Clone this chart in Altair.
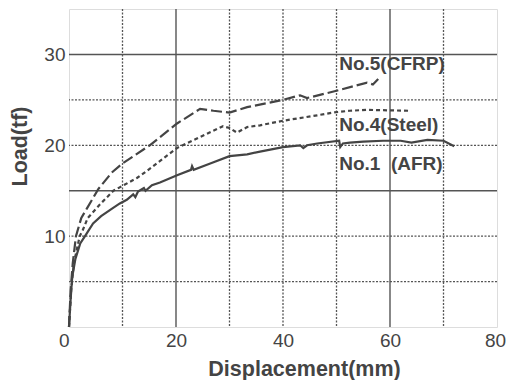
import altair as alt
import pandas as pd

# ---- data ----
afr_x = [0, 0.3, 0.6, 1.2, 2.1, 3.2, 4.5, 6, 7.7, 9.5, 10.8, 12.0, 12.4, 12.9, 14.0, 14.3,
         15.5, 17, 20.2, 22.8, 23.0, 23.3, 26.4, 30, 33.3, 35.7, 40, 43.2, 43.8, 44.5, 46.4,
         50.5, 50.7, 51.2, 52.5, 55, 58.7, 62, 64, 67, 70, 72]
afr_y = [0, 3, 5.5, 7.5, 9.2, 10.2, 11.4, 12.2, 12.9, 13.6, 14.0, 14.6, 14.3, 14.9, 15.3, 15.0,
         15.6, 15.9, 16.7, 17.3, 17.7, 17.3, 18.0, 18.8, 19.0, 19.3, 19.8, 20.0, 19.7, 20.0, 20.2,
         20.5, 19.8, 20.2, 20.3, 20.4, 20.5, 20.5, 20.3, 20.6, 20.5, 19.9]

steel_x = [0, 0.4, 0.9, 2, 2.6, 3.5, 5.8, 8.3, 9.9, 12.7, 14.6, 20.2, 24.5, 28.8, 30, 31.4,
           33.3, 35.7, 40, 46.4, 49.3, 52.5, 55.7, 63.4]
steel_y = [0, 4, 7, 10, 10.7, 12, 13.5, 15, 15.5, 16.4, 17.2, 19.7, 20.9, 22.1, 21.9, 21.4,
           22.0, 22.2, 22.7, 23.3, 23.6, 23.8, 23.9, 23.8]

cfrp_x = [0, 0.3, 0.7, 1.3, 2.3, 3.3, 5.5, 8, 10, 15.1, 20.2, 24.5, 27, 30, 33.3, 40, 43.2,
          44.5, 50, 55.7, 56.8, 57.8]
cfrp_y = [0, 4, 7, 10, 12, 13, 15.2, 17, 18, 20, 22.4, 24, 23.8, 23.6, 24.2, 25, 25.5,
          25.2, 26, 26.9, 26.7, 27.3]

label_text = ["No.5(CFRP)", "No.4(Steel)", "No.1\u00a0\u00a0(AFR)"]
label_x = [50.5, 50.5, 50.5]
label_y = [29.0, 22.2, 17.9]

x_ticks = [0, 20, 40, 60, 80]
y_ticks = [10, 20, 30]
grid_x_dotted = [10, 30, 40, 50, 70]
grid_x_solid = [20, 60]
grid_y_dotted = [5, 10, 20, 25]
grid_y_solid = [15, 30]

# ---- build ----
FONT = "Liberation Sans"
INK = "#444444"
LINE = "#555555"

xs = alt.Scale(domain=[0, 80], nice=False, zero=False)
ys = alt.Scale(domain=[0, 35], nice=False, zero=False)

x_axis = alt.Axis(
    values=x_ticks, grid=False, ticks=False, domain=False, labelPadding=4,
    labelFontSize=19, labelFont=FONT, labelColor=INK,
    labelAlign={"condition": {"test": "datum.value === 0", "value": "right"}, "value": "center"},
    labelOffset={"condition": {"test": "datum.value === 80", "value": -2}, "value": 0},
    title="Displacement(mm)", titleFont=FONT, titleFontSize=21.5, titleFontWeight="bold",
    titleColor=INK, titleX=235, titleY=42, titleAlign="center", titleBaseline="middle",
)
y_axis = alt.Axis(
    values=y_ticks, grid=False, ticks=False, domain=False, labelPadding=4,
    labelFontSize=19, labelFont=FONT, labelColor=INK,
    title="Load(tf)", titleFont=FONT, titleFontSize=21.5, titleFontWeight="bold",
    titleColor=INK, titleX=-49, titleY=137, titleAlign="center", titleBaseline="middle",
    titleAngle=270,
)

def series(xv, yv):
    return pd.DataFrame({"x": xv, "y": yv, "i": range(len(xv))})

base_axes = alt.Chart(pd.DataFrame({"x": [0], "y": [0]})).mark_point(opacity=0).encode(
    x=alt.X("x:Q", scale=xs, axis=x_axis),
    y=alt.Y("y:Q", scale=ys, axis=y_axis),
)

gxd = alt.Chart(pd.DataFrame({"v": grid_x_dotted})).mark_rule(
    color=LINE, strokeWidth=1.3, strokeDash=[2, 1.5]).encode(x=alt.X("v:Q", scale=xs))
gxs = alt.Chart(pd.DataFrame({"v": grid_x_solid})).mark_rule(
    color=LINE, strokeWidth=1.4).encode(x=alt.X("v:Q", scale=xs))
gyd = alt.Chart(pd.DataFrame({"v": grid_y_dotted})).mark_rule(
    color=LINE, strokeWidth=1.3, strokeDash=[2, 1.5]).encode(y=alt.Y("v:Q", scale=ys))
gys = alt.Chart(pd.DataFrame({"v": grid_y_solid})).mark_rule(
    color=LINE, strokeWidth=1.4).encode(y=alt.Y("v:Q", scale=ys))

def line(df, dash):
    kw = dict(color="#444444", strokeWidth=2.2)
    if dash:
        kw["strokeDash"] = dash
    return alt.Chart(df).mark_line(**kw).encode(
        x=alt.X("x:Q", scale=xs), y=alt.Y("y:Q", scale=ys), order="i:Q")

l_afr = line(series(afr_x, afr_y), None)
l_steel = line(series(steel_x, steel_y), [4, 3])
l_cfrp = line(series(cfrp_x, cfrp_y), [11, 4])

labels = alt.Chart(pd.DataFrame({"x": label_x, "y": label_y, "t": label_text})).mark_text(
    align="left", baseline="middle", font=FONT, fontSize=19, fontWeight="bold", color=INK
).encode(x=alt.X("x:Q", scale=xs), y=alt.Y("y:Q", scale=ys), text="t:N")

chart = alt.layer(base_axes, gxd, gxs, gyd, gys, l_afr, l_steel, l_cfrp, labels).properties(
    width=428, height=318,
    autosize=alt.AutoSizeParams(type="none"),
    padding={"left": 61, "top": 1, "right": 9, "bottom": 56},
).configure_view(stroke=LINE, strokeWidth=1.6).configure(background="white")

chart.save("out.html", embed_options={"renderer": "svg", "actions": False})
